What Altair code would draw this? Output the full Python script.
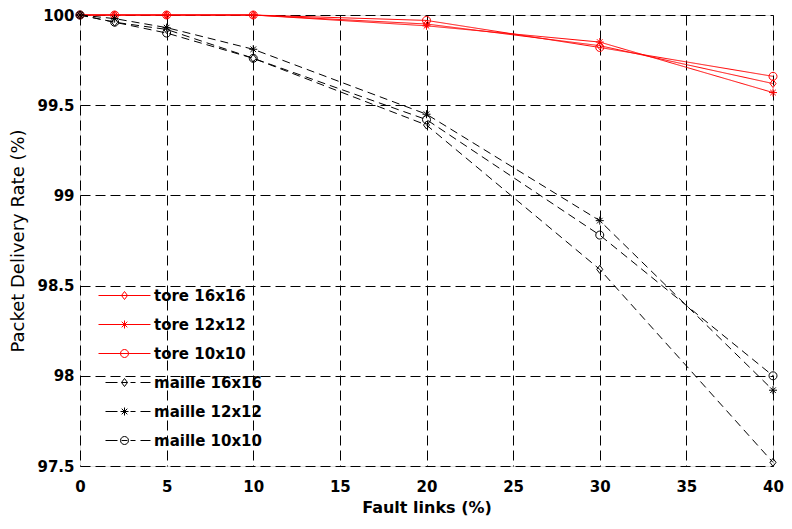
import altair as alt
import pandas as pd

# ---- data ----
fault_links = [0, 2, 5, 10, 20, 30, 40]
series_names = ["tore 16x16", "tore 12x12", "tore 10x10",
                "maille 16x16", "maille 12x12", "maille 10x10"]
tore_16 = [100, 100, 100, 100, 99.95, 99.83, 99.62]
tore_12 = [100, 100, 100, 100, 99.94, 99.85, 99.57]
tore_10 = [100, 100, 100, 100, 99.97, 99.82, 99.66]
maille_16 = [100, 99.96, 99.92, 99.76, 99.39, 98.59, 97.52]
maille_12 = [100, 99.98, 99.93, 99.81, 99.45, 98.86, 97.92]
maille_10 = [100, 99.96, 99.90, 99.76, 99.42, 98.78, 98.00]
x_ticks = [0, 5, 10, 15, 20, 25, 30, 35, 40]
y_ticks = [97.5, 98, 98.5, 99, 99.5, 100]

all_values = [tore_16, tore_12, tore_10, maille_16, maille_12, maille_10]
rows = []
for name, vals in zip(series_names, all_values):
    for fx, v in zip(fault_links, vals):
        rows.append({"series": name, "fault": fx, "rate": v})
df = pd.DataFrame(rows)

# ---- styles ----
colors = ["#ff0000"] * 3 + ["#000000"] * 3
dashes = [[1, 0]] * 3 + [[8, 5]] * 3

diamond = "M0,-1L0.75,0L0,1L-0.75,0Z"
asterisk = "M-1,0H1M0,-1V1M-0.7,-0.7L0.7,0.7M-0.7,0.7L0.7,-0.7"
circle = "M1,0A1,1,0,1,1,-1,0A1,1,0,1,1,1,0Z"
marker_paths = [diamond, asterisk, circle] * 2

# legend symbols (unit = 10 px): line segment with the marker in the middle
m = 0.4
a = round(m * 0.7, 3)
d = round(m * 0.75, 3)
l_diamond = f"M0,-{m}L{d},0L0,{m}L-{d},0Z"
l_ast = f"M-{m},0H{m}M0,-{m}V{m}M-{a},-{a}L{a},{a}M-{a},{a}L{a},-{a}"
l_circle = f"M{m},0A{m},{m},0,1,1,-{m},0A{m},{m},0,1,1,{m},0Z"
solid_seg = "M-2.6,0H2.6"
dash_seg = "M-1.9,0H-0.7M-0.3,0H0.3M0.6,0H1.1M1.6,0H2.6"
legend_paths = [solid_seg + l_diamond, solid_seg + l_ast, solid_seg + l_circle,
                dash_seg + l_diamond, dash_seg + l_ast, dash_seg + l_circle]

FONT = "DejaVu Sans"

x_axis = alt.Axis(values=x_ticks, title="Fault links (%)", grid=True,
                  gridDash=[10, 5], gridColor="#000000", gridOpacity=1, gridWidth=1,
                  ticks=False, domain=False, labelFlush=False, labelOverlap=False,
                  labelFont=FONT, labelFontSize=15, labelFontWeight="bold",
                  labelColor="#000000", labelPadding=13,
                  titleFont=FONT, titleFontSize=16, titleFontWeight="bold",
                  titleColor="#000000", titlePadding=5)
y_axis = alt.Axis(values=y_ticks, title="Packet Delivery Rate (%)", grid=True,
                  gridDash=[10, 5], gridColor="#000000", gridOpacity=1, gridWidth=1,
                  ticks=False, domain=False, labelFlush=False, labelOverlap=False,
                  format="~g",
                  labelFont=FONT, labelFontSize=15, labelFontWeight="bold",
                  labelColor="#000000", labelPadding=6,
                  titleFont=FONT, titleFontSize=18, titleFontWeight="normal",
                  titleColor="#000000", titlePadding=9)

x_enc = alt.X("fault:Q", scale=alt.Scale(domain=[0, 40], nice=False, zero=False), axis=x_axis)
y_enc = alt.Y("rate:Q", scale=alt.Scale(domain=[97.5, 100], nice=False, zero=False), axis=y_axis)

base = alt.Chart(df)

lines = base.mark_line(strokeWidth=1, clip=False).encode(
    x=x_enc, y=y_enc,
    color=alt.Color("series:N", scale=alt.Scale(domain=series_names, range=colors), legend=None),
    strokeDash=alt.StrokeDash("series:N", scale=alt.Scale(domain=series_names, range=dashes), legend=None),
    detail="series:N",
)

points = base.mark_point(filled=False, size=64, strokeWidth=1, opacity=1, clip=False).encode(
    x=x_enc, y=y_enc,
    color=alt.Color("series:N", scale=alt.Scale(domain=series_names, range=colors), legend=None),
    shape=alt.Shape("series:N", scale=alt.Scale(domain=series_names, range=marker_paths), legend=None),
)

legend_def = alt.Legend(orient="none", legendX=34, legendY=270, title=None,
                        labelFont=FONT, labelFontSize=15, labelFontWeight="bold",
                        labelColor="#000000", symbolSize=400, symbolStrokeWidth=1,
                        rowPadding=10, labelOffset=19, padding=0,
                        symbolFillColor="transparent")

legend_layer = base.transform_filter("false").mark_point(
    filled=False, size=400, strokeWidth=1, opacity=1).encode(
    x=x_enc, y=y_enc,
    color=alt.Color("series:N", scale=alt.Scale(domain=series_names, range=colors), legend=legend_def),
    shape=alt.Shape("series:N", scale=alt.Scale(domain=series_names, range=legend_paths), legend=legend_def),
)

chart = alt.layer(lines, points, legend_layer).resolve_scale(
    color="independent", shape="independent", strokeDash="independent"
).properties(
    width=693, height=451,
    autosize=alt.AutoSizeParams(type="none"),
    padding={"left": 72, "top": 7, "right": 11, "bottom": 55},
).configure_view(stroke="#333333", strokeWidth=1).configure(background="white")

chart.save("out.html", embed_options={"renderer": "svg", "actions": False})
